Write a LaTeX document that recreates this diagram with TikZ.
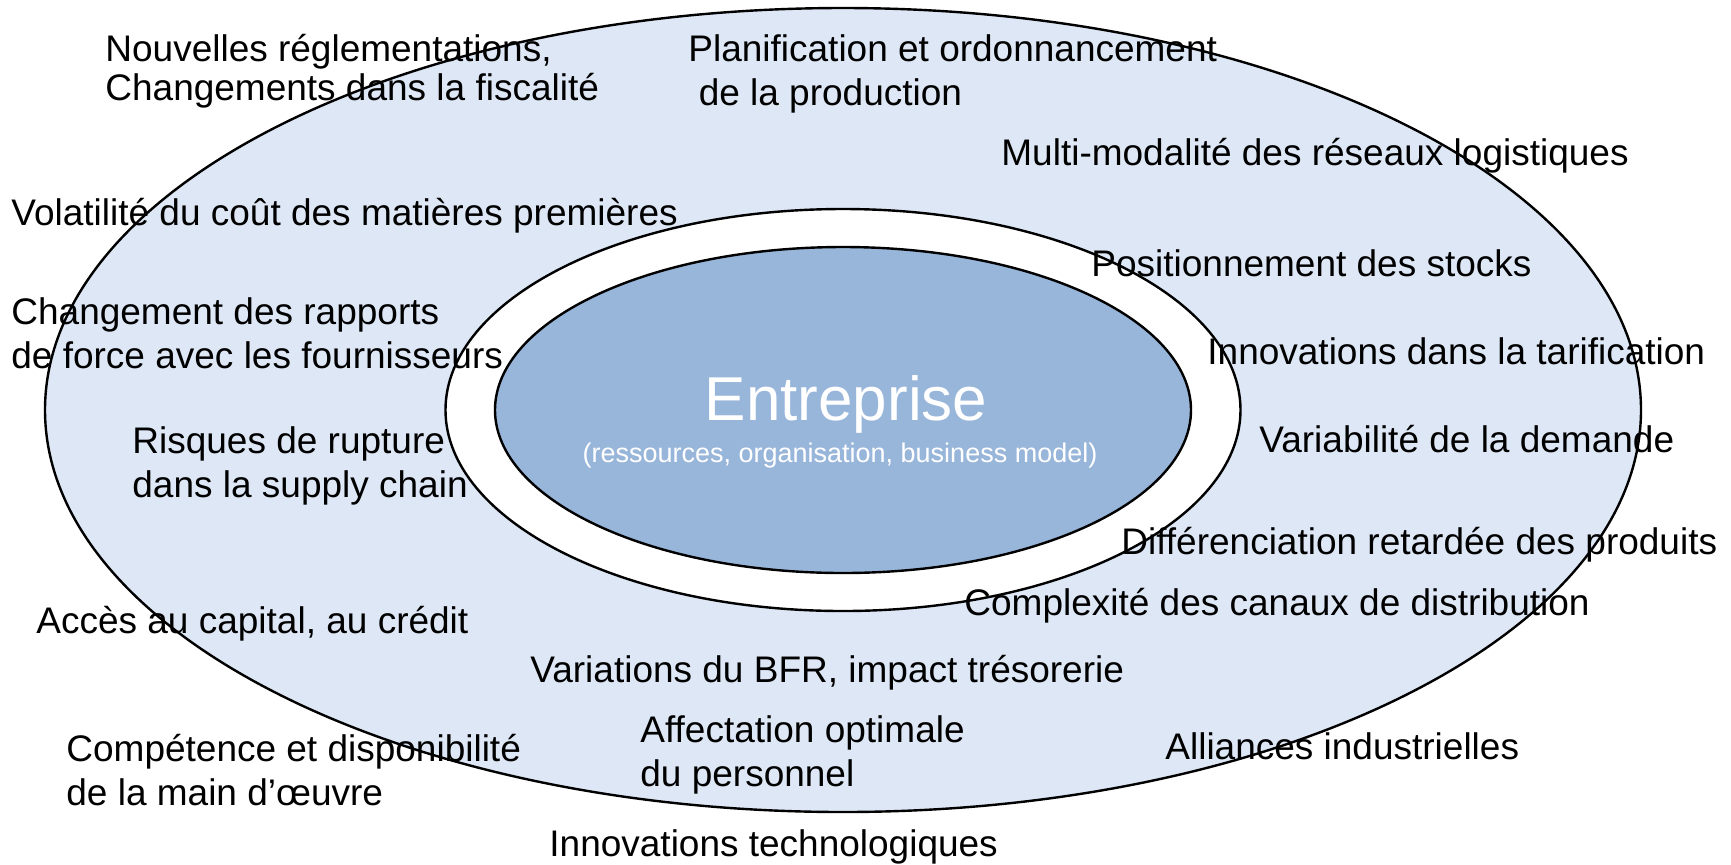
\documentclass[tikz,border=0pt]{standalone}
\usepackage{fontspec}
\setmainfont{Liberation Sans}
\usetikzlibrary{shapes.geometric}
\definecolor{outerfill}{RGB}{222,231,245}
\definecolor{innerfill}{RGB}{152,181,218}
\begin{document}
\begin{tikzpicture}[x=0.5pt,y=-0.5pt,
  ring/.style={ellipse,draw=black,line width=1.2pt,inner sep=0pt},
  lbl/.style={anchor=west,inner sep=0pt,align=left,font=\fontsize{18.5}{22}\selectfont}]
\useasboundingbox (0,0) rectangle (1731,864);
\fill[white] (0,0) rectangle (1731,864);
\node[ring,fill=outerfill,minimum width=798pt,minimum height=402pt] (outer) at (843,410) {};
\node[ring,fill=white,minimum width=397.5pt,minimum height=201pt] (middle) at (843,410) {};
\node[ring,fill=innerfill,minimum width=348pt,minimum height=163pt] (inner) at (843,410) {};
\node[inner sep=0pt,text=white,font=\fontsize{31}{36}\selectfont] (ent) at (846,404) {Entreprise};
\node[inner sep=0pt,text=white,font=\fontsize{13.5}{16}\selectfont] (entsub) at (840,456) {(ressources, organisation, business model)};
\node[lbl,font=\fontsize{18.5}{19.5}\selectfont] (t1) at (105,71) {Nouvelles réglementations,\\Changements dans la fiscalité};
\node[lbl] (t2) at (688,74) {Planification et ordonnancement\\\hspace*{0.28em}de la production};
\node[lbl] (t3) at (1001,156) {Multi-modalité des réseaux logistiques};
\node[lbl] (t4) at (11,216) {Volatilité du coût des matières premières};
\node[lbl] (t5) at (1091,263) {Positionnement des stocks};
\node[lbl] (t6) at (11,333) {Changement des rapports\\de force avec les fournisseurs};
\node[lbl] (t7) at (1207,351) {Innovations dans la tarification};
\node[lbl] (t8) at (132,466) {Risques de rupture\\dans la supply chain};
\node[lbl] (t9) at (1259,439) {Variabilité de la demande};
\node[lbl] (t10) at (1121,545) {Différenciation retardée des produits};
\node[lbl] (t11) at (964,606) {Complexité des canaux de distribution};
\node[lbl] (t12) at (36,624) {Accès au capital, au crédit};
\node[lbl] (t13) at (530,673) {Variations du BFR, impact trésorerie};
\node[lbl] (t14) at (66,770) {Compétence et disponibilité\\de la main d’œuvre};
\node[lbl] (t15) at (640,755) {Affectation optimale\\du personnel};
\node[lbl] (t16) at (1165,746) {Alliances industrielles};
\node[lbl] (t17) at (549,847) {Innovations technologiques};
\end{tikzpicture}
\end{document}
